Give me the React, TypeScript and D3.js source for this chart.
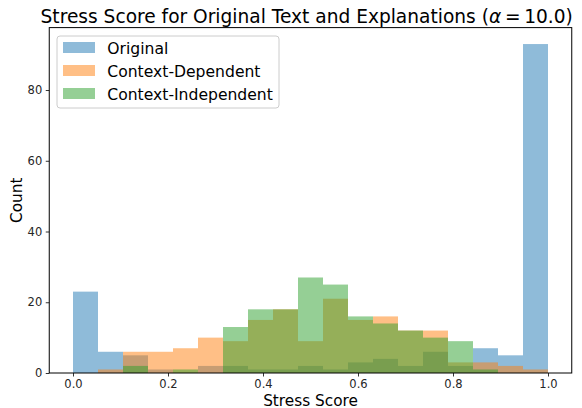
import * as d3 from 'd3';
import React, { useEffect, useRef } from 'react';

// histogram counts per bin (19 equal bins over [0, 1])
const binCount = 19;
const original = [23, 6, 5, 1, 0, 2, 2, 1, 1, 2, 1, 3, 4, 2, 6, 2, 7, 5, 93];
const contextDependent = [0, 1, 6, 6, 7, 10, 9, 15, 18, 9, 21, 15, 16, 12, 12, 3, 3, 2, 1];
const contextIndependent = [0, 0, 2, 0, 1, 0, 13, 18, 18, 27, 25, 16, 14, 12, 10, 9, 1, 0, 0];

const seriesNames = ['Original', 'Context-Dependent', 'Context-Independent'];
const seriesColors = ['#1f77b4', '#ff7f0e', '#2ca02c'];
const xTicks = [0, 0.2, 0.4, 0.6, 0.8, 1.0];
const yTicks = [0, 20, 40, 60, 80];

export default function App() {
  const svgRef = useRef<SVGSVGElement | null>(null);

  const width = 582;
  const height = 408;
  const marginTop = 27.6;
  const marginRight = 10.25;
  const marginBottom = 35;
  const marginLeft = 49.25;
  const font = 'DejaVu Sans, sans-serif';

  useEffect(() => {
    const allSeries = [original, contextDependent, contextIndependent];
    const yMax = d3.max(allSeries.flat()) || 0;

    // matplotlib style 5% margins
    const x = d3.scaleLinear()
      .domain([-0.05, 1.05])
      .range([marginLeft, width - marginRight]);

    const y = d3.scaleLinear()
      .domain([0, yMax * 1.05])
      .range([height - marginBottom, marginTop]);

    const svg = d3.select(svgRef.current)
      .attr('width', width)
      .attr('height', height)
      .attr('viewBox', `0 0 ${width} ${height}`);

    svg.selectAll('*').remove();

    svg.append('rect')
      .attr('width', width)
      .attr('height', height)
      .attr('fill', 'white');

    // bars, drawn series by series so the overlaps mix like alpha=0.5
    allSeries.forEach((counts, s) => {
      svg.append('g')
        .selectAll('rect')
        .data(counts)
        .join('rect')
        .attr('x', (_, i) => x(i / binCount))
        .attr('width', (_, i) => x((i + 1) / binCount) - x(i / binCount))
        .attr('y', d => y(d))
        .attr('height', d => y(0) - y(d))
        .attr('fill', seriesColors[s])
        .attr('fill-opacity', 0.5);
    });

    // x axis
    svg.append('g')
      .attr('transform', `translate(0,${height - marginBottom})`)
      .call(d3.axisBottom(x).tickValues(xTicks).tickFormat(d3.format('.1f')).tickSize(3.5).tickPadding(3.5))
      .call(g => g.select('.domain').remove())
      .call(g => g.selectAll('.tick line').attr('stroke', 'black').attr('stroke-width', 0.8))
      .call(g => g.selectAll('.tick text')
        .attr('font-family', font)
        .attr('font-size', 11.5)
        .attr('fill', '#262626'));

    // y axis
    svg.append('g')
      .attr('transform', `translate(${marginLeft},0)`)
      .call(d3.axisLeft(y).tickValues(yTicks).tickSize(3.5).tickPadding(3.5))
      .call(g => g.select('.domain').remove())
      .call(g => g.selectAll('.tick line').attr('stroke', 'black').attr('stroke-width', 0.8))
      .call(g => g.selectAll('.tick text')
        .attr('font-family', font)
        .attr('font-size', 11.5)
        .attr('fill', '#262626'));

    // spines
    svg.append('rect')
      .attr('x', marginLeft)
      .attr('y', marginTop)
      .attr('width', width - marginLeft - marginRight)
      .attr('height', height - marginTop - marginBottom)
      .attr('fill', 'none')
      .attr('stroke', 'black')
      .attr('stroke-width', 1);

    // axis labels
    svg.append('text')
      .attr('x', (marginLeft + width - marginRight) / 2)
      .attr('y', 405.5)
      .attr('text-anchor', 'middle')
      .attr('font-family', font)
      .attr('font-size', 15.3)
      .text('Stress Score');

    svg.append('text')
      .attr('transform', `translate(22,${(marginTop + height - marginBottom) / 2}) rotate(-90)`)
      .attr('text-anchor', 'middle')
      .attr('font-family', font)
      .attr('font-size', 15.3)
      .text('Count');

    // title
    const title = svg.append('text')
      .attr('x', 306.7)
      .attr('y', 22.5)
      .attr('text-anchor', 'middle')
      .attr('font-family', font)
      .attr('font-size', 18.6);
    title.append('tspan').text('Stress Score for Original Text and Explanations (');
    title.append('tspan').attr('font-style', 'italic').text('α');
    title.append('tspan').text('\u2009=\u200910.0)');

    // legend
    const legend = svg.append('g');
    legend.append('rect')
      .attr('x', 57)
      .attr('y', 36)
      .attr('width', 222)
      .attr('height', 72)
      .attr('rx', 3)
      .attr('fill', 'white')
      .attr('fill-opacity', 0.8)
      .attr('stroke', '#cccccc')
      .attr('stroke-width', 1);

    seriesNames.forEach((name, i) => {
      const rowY = 42 + i * 23;
      legend.append('rect')
        .attr('x', 63)
        .attr('y', rowY)
        .attr('width', 32)
        .attr('height', 11)
        .attr('fill', seriesColors[i])
        .attr('fill-opacity', 0.5);
      legend.append('text')
        .attr('x', 107.3)
        .attr('y', rowY + 11.5)
        .attr('font-family', font)
        .attr('font-size', 15.6)
        .text(name);
    });
  }, []);

  return (
    <svg ref={svgRef} style={{ position: 'absolute', left: 0, top: 0, display: 'block' }}></svg>
  );
}
